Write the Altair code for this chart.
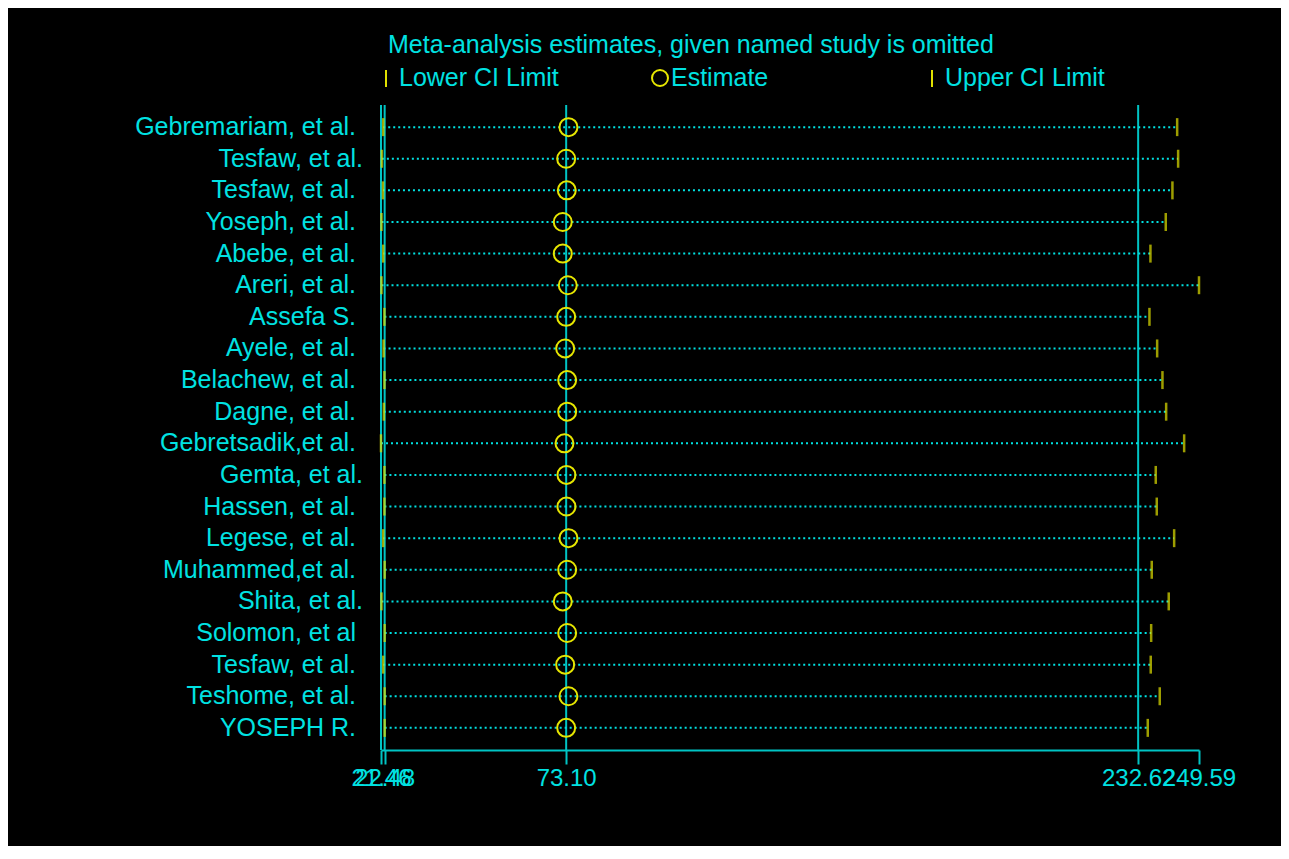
import altair as alt
import pandas as pd

SP = "\u00a0\u200b"  # trailing space kept visible
studies = [
    "Gebremariam, et al." + SP, "Tesfaw, et al.", "Tesfaw, et al." + SP,
    "Yoseph, et al." + SP, "Abebe, et al." + SP, "Areri, et al." + SP,
    "Assefa S." + SP, "Ayele, et al." + SP, "Belachew, et al." + SP,
    "Dagne, et al." + SP, "Gebretsadik,et al." + SP, "Gemta, et al.",
    "Hassen, et al." + SP, "Legese, et al." + SP, "Muhammed,et al." + SP,
    "Shita, et al.", "Solomon, et al" + SP, "Tesfaw, et al." + SP,
    "Teshome, et al." + SP, "YOSEPH R." + SP,
]
lower = [22.08, 21.70, 22.01, 21.60, 22.08, 21.60, 22.41, 22.17, 22.41, 22.24,
         21.46, 22.41, 22.41, 22.08, 22.48, 21.60, 22.48, 22.08, 22.48, 22.48]
estimate = [73.74, 73.10, 73.27, 72.15, 72.15, 73.55, 73.10, 72.82, 73.38, 73.38,
            72.63, 73.18, 73.18, 73.74, 73.38, 72.15, 73.38, 72.82, 73.74, 73.10]
upper = [243.50, 243.77, 242.18, 240.32, 236.05, 249.59, 235.77, 237.92, 239.40, 240.43,
         245.45, 237.53, 237.81, 242.66, 236.41, 241.15, 236.25, 236.13, 238.64, 235.30]
ref_lines = [21.46, 22.48, 73.10, 232.62]
tick_values = [21.46, 22.48, 73.10, 232.62, 249.59]
title_text = "Meta-analysis estimates, given named study is omitted"
legend_labels = ["Lower CI Limit", "Estimate", "Upper CI Limit"]

CYAN_T = "#00E2E2"
CYAN_L = "#00C4C4"
YEL = "#E0E000"
FONT = "Liberation Sans"
FS = 25

df = pd.DataFrame({"idx": list(range(1, len(studies) + 1)), "study": studies,
                   "lower": lower, "est": estimate, "upper": upper})
refdf = pd.DataFrame({"v": ref_lines})
one = pd.DataFrame({"a": [0]})

xscale = alt.Scale(domain=[min(tick_values), max(tick_values)], nice=False, zero=False)
xaxis = alt.Axis(values=tick_values, format=".2f", title=None, grid=False,
                 labelOverlap=False, labelFlush=False, labelColor=CYAN_T,
                 labelFontSize=24, labelFont=FONT, labelPadding=2,
                 domainColor=CYAN_L, domainWidth=2, tickColor=CYAN_L,
                 tickSize=14, tickWidth=2)
yenc = alt.Y("idx:O", axis=None, scale=alt.Scale(type="point", padding=0.7))

base = alt.Chart(df)

vlines = alt.Chart(refdf).mark_rule(color=CYAN_L, strokeWidth=2).encode(
    x=alt.X("v:Q", scale=xscale, axis=xaxis))

dots = base.mark_rule(color="#00E0E0", strokeWidth=2, strokeDash=[2, 3]).encode(
    x=alt.X("lower:Q", scale=xscale, axis=xaxis), x2="upper:Q", y=yenc)

lo_ticks = base.mark_tick(color=YEL, thickness=2.5, size=18, orient="vertical").encode(
    x=alt.X("lower:Q", scale=xscale, axis=xaxis), y=yenc)
up_ticks = base.mark_tick(color=YEL, thickness=2.5, size=18, orient="vertical").encode(
    x=alt.X("upper:Q", scale=xscale, axis=xaxis), y=yenc)
circles = base.mark_point(shape="circle", filled=False, size=324, color="#E6E600",
                          strokeWidth=2, opacity=1).encode(
    x=alt.X("est:Q", scale=xscale, axis=xaxis), y=yenc)

labels = base.mark_text(align="right", baseline="middle", font=FONT, fontSize=FS,
                        color=CYAN_T).encode(x=alt.value(-18), y=yenc, text="study:N")

title = alt.Chart(one).mark_text(text=title_text, align="left", baseline="middle",
                                 font=FONT, fontSize=FS, color=CYAN_T).encode(
    x=alt.value(7), y=alt.value(-60))

leg_t1 = alt.Chart(one).mark_rule(color=YEL, strokeWidth=2).encode(
    x=alt.value(5), y=alt.value(-35), y2=alt.value(-18))
leg_l1 = alt.Chart(one).mark_text(text=legend_labels[0], align="left", baseline="middle",
                                  font=FONT, fontSize=FS, color=CYAN_T).encode(
    x=alt.value(18), y=alt.value(-27))
leg_c = alt.Chart(one).mark_point(shape="circle", filled=False, size=256, color="#E6E600",
                                  strokeWidth=2, opacity=1).encode(
    x=alt.value(279), y=alt.value(-27))
leg_l2 = alt.Chart(one).mark_text(text=legend_labels[1], align="left", baseline="middle",
                                  font=FONT, fontSize=FS, color=CYAN_T).encode(
    x=alt.value(290), y=alt.value(-27))
leg_t2 = alt.Chart(one).mark_rule(color=YEL, strokeWidth=2).encode(
    x=alt.value(551), y=alt.value(-35), y2=alt.value(-18))
leg_l3 = alt.Chart(one).mark_text(text=legend_labels[2], align="left", baseline="middle",
                                  font=FONT, fontSize=FS, color=CYAN_T).encode(
    x=alt.value(564), y=alt.value(-27))

chart = alt.layer(
    vlines, dots, lo_ticks, up_ticks, circles, labels,
    title, leg_t1, leg_l1, leg_c, leg_l2, leg_t2, leg_l3,
).properties(
    width=818, height=645,
    background="black",
    padding={"left": 373, "top": 97, "right": 82, "bottom": 96},
    autosize=alt.AutoSizeParams(type="none"),
).configure_view(stroke=None)

chart.save("out.html", embed_options={"renderer": "svg", "actions": False})
